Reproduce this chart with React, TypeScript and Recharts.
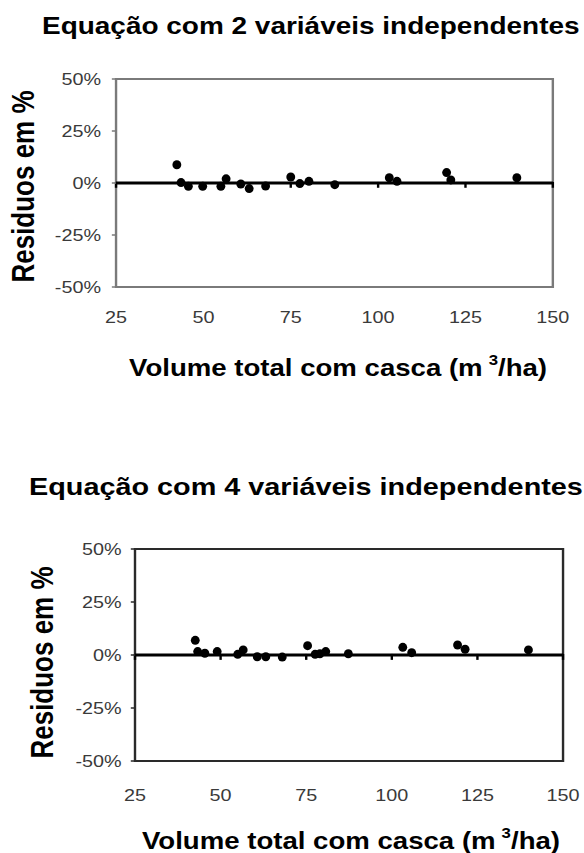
import React from "react";
import {
  ScatterChart,
  Scatter,
  XAxis,
  YAxis,
  ReferenceArea,
  ReferenceLine,
  Label,
} from "recharts";

// axis ticks
const volumeTicks = [25, 50, 75, 100, 125, 150];
const residualTicks = [-50, -25, 0, 25, 50];

// equation with 2 independent variables
const volume2 = [42.4, 43.6, 45.7, 49.8, 55.0, 56.5, 60.7, 63.1, 67.8, 75.0, 77.6, 80.2, 87.6, 103.2, 105.4, 119.6, 120.8, 139.7];
const residual2 = [8.8, 0.2, -1.6, -1.6, -1.6, 2.0, -0.5, -2.7, -1.5, 2.9, -0.3, 0.8, -0.8, 2.5, 0.8, 5.0, 1.5, 2.5];

// equation with 4 independent variables
const volume4 = [42.6, 43.3, 45.4, 49.0, 55.0, 56.6, 60.7, 63.2, 68.0, 75.4, 77.6, 79.0, 80.7, 87.3, 103.2, 105.8, 119.2, 121.4, 139.9];
const residual4 = [6.9, 1.6, 0.8, 1.6, 0.3, 2.4, -0.8, -0.8, -1.0, 4.4, 0.3, 0.6, 1.6, 0.6, 3.6, 1.1, 4.7, 2.7, 2.4];

const STRETCH = 1.2; // the scanned figure is wider than it is tall
const FONT = '"Liberation Sans", Arial, Helvetica, sans-serif';
const W = 487;

type Layout = {
  top: number;
  height: number;
  margin: { top: number; right: number; bottom: number; left: number };
  frame: string;
  titleLeft: number;
  titleBaseline: number;
  titleSize: number;
  yTitleX: number;
  yTitleY: number;
  xTitleX: number;
  xTitleY: number;
  xTickMargin: number;
  yTickMargin: number;
};

const dot = (props: any) => (
  <ellipse cx={props.cx} cy={props.cy} rx={3.7} ry={4.5} fill="#000" />
);

function ResidualPlot({ title, xs, ys, lay }: { title: string; xs: number[]; ys: number[]; lay: Layout }) {
  const data = xs.map((v, i) => ({ volume: v, residual: ys[i] }));

  const yTitle = () => (
    <text
      x={lay.yTitleX}
      y={lay.yTitleY}
      transform={`rotate(-90 ${lay.yTitleX} ${lay.yTitleY})`}
      textAnchor="middle"
      dominantBaseline="central"
      fontFamily={FONT}
      fontWeight="bold"
      fontSize={26}
      fill="#000"
    >
      Residuos em %
    </text>
  );

  const xTitle = () => (
    <text x={lay.xTitleX} y={lay.xTitleY} textAnchor="middle" fontFamily={FONT} fontWeight="bold" fontSize={23} fill="#000">
      Volume total com casca (m
      <tspan dx={5} dy={-11} fontSize={14}>3</tspan>
      <tspan dy={11}>/ha)</tspan>
    </text>
  );

  return (
    <div
      style={{
        position: "absolute",
        left: 0,
        top: lay.top,
        width: W,
        height: lay.height,
        transform: `scaleX(${STRETCH})`,
        transformOrigin: "0 0",
      }}
    >
      <div
        style={{
          position: "absolute",
          left: lay.titleLeft,
          top: lay.titleBaseline - lay.titleSize * 0.85,
          fontFamily: FONT,
          fontWeight: "bold",
          fontSize: lay.titleSize,
          lineHeight: `${lay.titleSize}px`,
          whiteSpace: "nowrap",
          color: "#000",
        }}
      >
        {title}
      </div>
      <ScatterChart width={W} height={lay.height} margin={lay.margin}>
        <XAxis
          type="number"
          dataKey="volume"
          domain={[25, 150]}
          ticks={volumeTicks}
          allowDataOverflow
          axisLine={false}
          tickLine={false}
          tickSize={0}
          tickMargin={lay.xTickMargin}
          height={30}
          tick={{ fill: "#3a3a3a", fontSize: 16.5, fontFamily: FONT }}
          label={<Label content={xTitle} />}
        />
        <YAxis
          type="number"
          dataKey="residual"
          domain={[-50, 50]}
          ticks={residualTicks}
          allowDataOverflow
          axisLine={false}
          tickLine={{ stroke: lay.frame, strokeWidth: 1.5 }}
          tickSize={3.5}
          tickMargin={lay.yTickMargin}
          width={60}
          tickFormatter={(v: number) => `${v}%`}
          tick={{ fill: "#3a3a3a", fontSize: 16.5, fontFamily: FONT }}
          label={<Label content={yTitle} />}
        />
        <ReferenceArea x1={25} x2={150} y1={-50} y2={50} fill="none" stroke={lay.frame} strokeWidth={2} />
        <ReferenceLine y={0} stroke="#000" strokeWidth={3} />
        {volumeTicks.map((t) => (
          <ReferenceLine
            key={t}
            segment={[
              { x: t, y: 0.5 },
              { x: t, y: -2.3 },
            ]}
            stroke="#000"
            strokeWidth={2}
          />
        ))}
        <Scatter data={data} shape={dot} isAnimationActive={false} />
      </ScatterChart>
    </div>
  );
}

const topLayout: Layout = {
  top: 0,
  height: 400,
  margin: { top: 79, right: 26.3, bottom: 83, left: 36.7 },
  frame: "#7a7a7a",
  titleLeft: 35,
  titleBaseline: 35,
  titleSize: 23.3,
  yTitleX: 19.2,
  yTitleY: 186.5,
  xTitleX: 281.7,
  xTitleY: 376,
  xTickMargin: 24,
  yTickMargin: 9,
};

const bottomLayout: Layout = {
  top: 440,
  height: 413,
  margin: { top: 109, right: 17.8, bottom: 62, left: 52.5 },
  frame: "#2a2a2a",
  titleLeft: 24.2,
  titleBaseline: 55,
  titleSize: 24,
  yTitleX: 35.4,
  yTitleY: 222.5,
  xTitleX: 292.5,
  xTitleY: 409,
  xTickMargin: 28,
  yTickMargin: 7.6,
};

export default function App() {
  return (
    <div
      style={{
        position: "absolute",
        left: 0,
        top: 0,
        width: 584,
        height: 853,
        background: "#fff",
        overflow: "hidden",
      }}
    >
      <ResidualPlot title="Equação com 2 variáveis independentes" xs={volume2} ys={residual2} lay={topLayout} />
      <ResidualPlot title="Equação com 4 variáveis independentes" xs={volume4} ys={residual4} lay={bottomLayout} />
    </div>
  );
}
